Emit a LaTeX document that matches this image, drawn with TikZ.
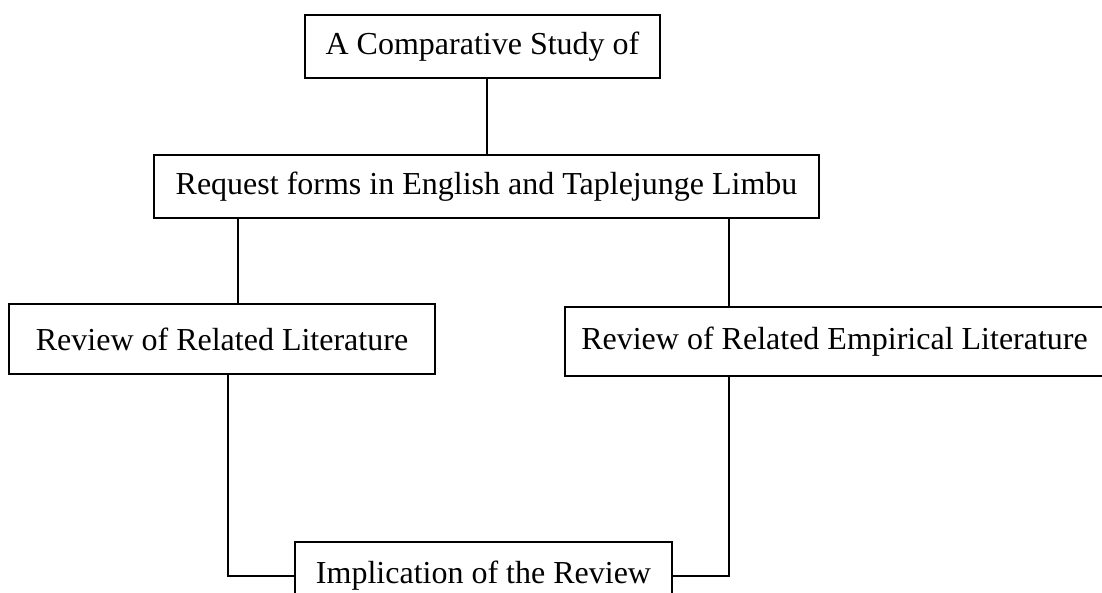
\documentclass[tikz,border=0pt]{standalone}
\usepackage{fontspec}
\setmainfont{Liberation Serif}
\begin{document}
\begin{tikzpicture}[x=1pt,y=-1pt,
  box/.style={draw,line width=1.8pt,inner sep=0pt,font=\fontsize{32pt}{38pt}\selectfont},
  conn/.style={line width=1.8pt}]
\useasboundingbox (0,0) rectangle (1102,593);
\node[box,minimum width=355pt,minimum height=63pt] (top) at (482.5,46.5) {A Comparative Study of};
\node[box,minimum width=665pt,minimum height=63pt] (req) at (486.5,186.5) {Request forms in English and Taplejunge Limbu};
\node[box,minimum width=426pt,minimum height=70pt] (lit) at (222,339) {Review of Related Literature};
\node[box,minimum width=539pt,minimum height=69pt] (emp) at (834.5,341.5) {Review of Related Empirical Literature};
\node[box,minimum width=377pt,minimum height=68pt] (impl) at (483.5,576) {Implication of the Review};
\draw[conn] ([xshift=4.5pt]top.south) -- ([xshift=4.5pt]top.south |- req.north);
\draw[conn] ([xshift=16pt]lit.north |- req.south) -- ([xshift=16pt]lit.north);
\draw[conn] ([xshift=-105.5pt]emp.north |- req.south) -- ([xshift=-105.5pt]emp.north);
\draw[conn] ([xshift=6pt]lit.south) |- (impl.west);
\draw[conn] ([xshift=-105.5pt]emp.south) |- (impl.east);
\end{tikzpicture}
\end{document}
